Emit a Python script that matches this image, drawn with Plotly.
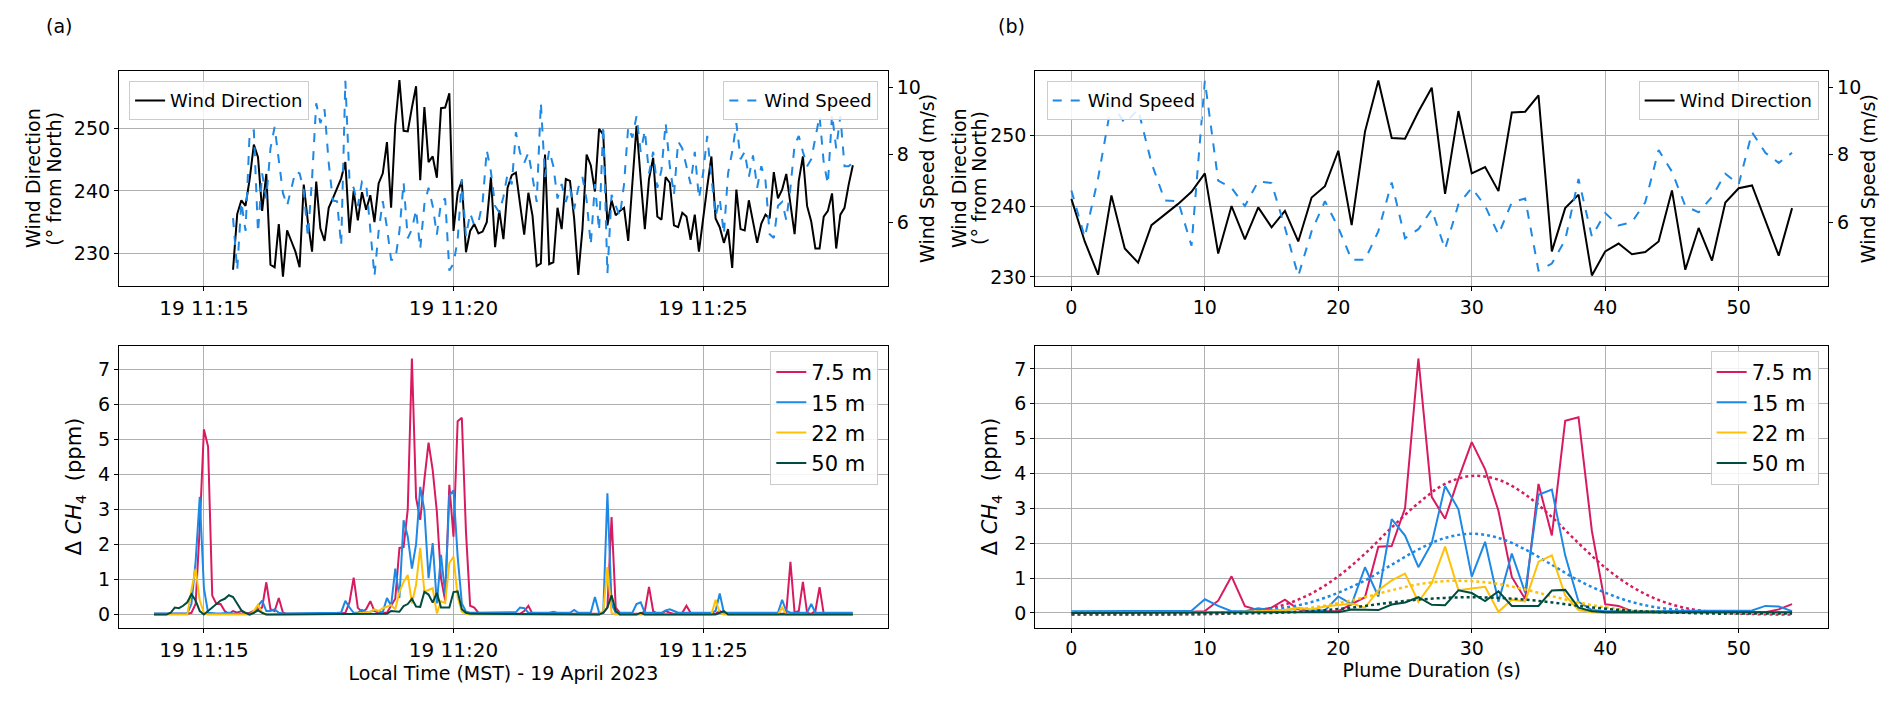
import pandas as pd
import plotly.graph_objects as go

# ---- colours ----
C_RED = "#D81B60"
C_BLUE = "#1E88E5"
C_YEL = "#FFC107"
C_GRN = "#004D40"
FONT = "DejaVu Sans"

# ---- (b) plume window, 1 sample per step ----
PLUME_T = list(range(55))

WDIR_PLUME = [241.0, 235.0, 230.3, 241.5, 234.0, 232.0, 237.3, 238.8, 240.3, 242.0,
              244.6, 233.3, 240.0, 235.3, 239.8, 237.0, 239.3, 235.0, 241.2, 242.8,
              247.8, 237.3, 250.5, 257.7, 249.6, 249.5, 253.3, 256.7, 241.7, 253.4,
              244.6, 245.5, 242.1, 253.2, 253.3, 255.6, 233.6, 239.7, 241.6, 230.2,
              233.6, 234.7, 233.2, 233.5, 235.0, 242.2, 231.0, 236.9, 232.3, 240.5,
              242.5, 242.9, 237.9, 233.0, 239.7]
WSPD_PLUME = [6.94, 5.55, 7.30, 9.53, 8.94, 9.35, 7.76, 6.64, 6.62, 5.30,
              10.2, 7.23, 7.02, 6.48, 7.21, 7.16, 5.84, 4.40, 5.73, 6.62,
              5.84, 4.88, 4.88, 5.73, 7.18, 5.52, 5.79, 6.37, 5.20, 6.53,
              7.02, 6.48, 5.63, 6.59, 6.70, 4.56, 4.77, 5.47, 7.28, 5.57,
              6.27, 5.90, 6.00, 6.59, 8.14, 7.50, 6.48, 6.29, 6.75, 7.44,
              7.12, 8.67, 8.06, 7.76, 8.06]

CH4_75_PLUME = [0.02, 0.02, 0.02, 0.02, 0.02, 0.02, 0.02, 0.02, 0.02, 0.03,
                0.05, 0.35, 1.05, 0.19, 0.08, 0.15, 0.38, 0.10, 0.05, 0.05,
                0.05, 0.25, 0.45, 1.90, 1.92, 3.00, 7.30, 3.33, 2.70, 3.85,
                4.90, 4.12, 2.93, 1.03, 0.40, 3.70, 2.22, 5.51, 5.61, 2.35,
                0.25, 0.20, 0.05, 0.03, 0.03, 0.03, 0.03, 0.03, 0.03, 0.03,
                0.03, 0.02, 0.02, 0.10, 0.25]
CH4_15_PLUME = [0.05, 0.05, 0.05, 0.05, 0.05, 0.05, 0.05, 0.05, 0.05, 0.06,
                0.39, 0.20, 0.05, 0.05, 0.13, 0.07, 0.08, 0.12, 0.08, 0.07,
                0.47, 0.25, 1.31, 0.47, 2.69, 2.22, 1.31, 2.00, 3.64, 2.97,
                1.04, 2.04, 0.32, 1.70, 0.58, 3.39, 3.54, 1.65, 0.32, 0.08,
                0.05, 0.05, 0.05, 0.05, 0.05, 0.05, 0.05, 0.05, 0.05, 0.05,
                0.05, 0.07, 0.20, 0.18, 0.05]
CH4_22_PLUME = [0.0, 0.0, 0.0, 0.0, 0.0, 0.0, 0.0, 0.0, 0.0, 0.0,
                0.0, 0.02, 0.02, 0.03, 0.05, 0.05, 0.08, 0.15, 0.10, 0.18,
                0.22, 0.27, 0.15, 0.65, 0.93, 1.13, 0.32, 0.85, 1.90, 0.65,
                0.70, 0.75, 0.03, 0.38, 0.33, 1.47, 1.65, 0.50, 0.08, 0.02,
                0.0, 0.0, 0.0, 0.0, 0.0, 0.0, 0.0, 0.0, 0.0, 0.0,
                0.0, 0.0, 0.0, 0.0, 0.0]
CH4_50_PLUME = [0.0, 0.0, 0.0, 0.0, 0.0, 0.0, 0.0, 0.0, 0.0, 0.0,
                0.0, 0.0, 0.0, 0.0, 0.0, 0.0, 0.01, 0.01, 0.01, 0.01,
                0.02, 0.10, 0.08, 0.08, 0.24, 0.30, 0.45, 0.23, 0.22, 0.65,
                0.57, 0.34, 0.62, 0.20, 0.20, 0.20, 0.64, 0.66, 0.15, 0.05,
                0.02, 0.02, 0.02, 0.02, 0.02, 0.02, 0.02, 0.02, 0.02, 0.02,
                0.02, 0.02, 0.02, 0.02, 0.02]

# fitted plume curves (dotted), read every 2 s
FIT_T = list(range(0, 55, 2))
FIT_75 = [-0.05, -0.05, -0.05, -0.05, -0.05, -0.04, -0.01, 0.07, 0.24, 0.56,
          1.05, 1.70, 2.45, 3.15, 3.70, 3.93, 3.82, 3.40, 2.75, 2.00,
          1.30, 0.75, 0.37, 0.14, 0.03, -0.02, -0.04, -0.05]
FIT_15 = [0.0, 0.0, 0.0, 0.0, 0.0, 0.0, 0.02, 0.07, 0.15, 0.31,
          0.58, 0.93, 1.38, 1.82, 2.15, 2.27, 2.15, 1.82, 1.38, 0.93,
          0.58, 0.31, 0.15, 0.07, 0.03, 0.01, 0.0, 0.0]
FIT_22 = [0.0, 0.0, 0.0, 0.0, 0.0, 0.0, 0.0, 0.02, 0.06, 0.15,
          0.28, 0.45, 0.65, 0.82, 0.91, 0.91, 0.83, 0.67, 0.48, 0.30,
          0.16, 0.07, 0.03, 0.01, 0.0, 0.0, 0.0, 0.0]
FIT_50 = [-0.02, -0.02, -0.02, -0.02, -0.02, -0.02, -0.02, -0.01, 0.01, 0.05,
          0.11, 0.20, 0.30, 0.38, 0.43, 0.45, 0.43, 0.38, 0.30, 0.20,
          0.12, 0.06, 0.02, 0.0, -0.02, -0.02, -0.02, -0.02]

# ---- (a) full record: before and after the plume window ----
CH4_75_BEFORE = [0.02, 0.02, 0.02, 0.02, 0.02, 0.02, 0.02, 0.02, 0.02, 0.05,
                 0.30, 2.50, 5.28, 4.79, 0.54, 0.30, 0.30, 0.10, 0.02, 0.10,
                 0.05, 0.10, 0.02, 0.05, 0.10, 0.15, 0.20, 0.92, 0.15, 0.10,
                 0.47, 0.05, 0.02, 0.02, 0.02, 0.02]
CH4_15_BEFORE = [0.03, 0.03, 0.03, 0.03, 0.03, 0.03, 0.03, 0.03, 0.03, 0.30,
                 1.50, 3.36, 0.75, 0.05, 0.03, 0.03, 0.03, 0.05, 0.05, 0.03,
                 0.02, 0.02, 0.02, 0.02, 0.05, 0.25, 0.40, 0.10, 0.10, 0.15,
                 0.05, 0.03, 0.03, 0.03, 0.03, 0.03]
CH4_22_BEFORE = [0.0, 0.0, 0.0, 0.0, 0.0, 0.0, 0.0, 0.0, 0.0, 0.70,
                 1.30, 0.40, 0.05, 0.0, 0.0, 0.0, 0.0, 0.0, 0.0, 0.0,
                 0.0, 0.0, 0.0, 0.0, 0.10, 0.28, 0.05, 0.0, 0.0, 0.0,
                 0.0, 0.0, 0.0, 0.0, 0.0, 0.0]
CH4_50_BEFORE = [0.0, 0.0, 0.0, 0.0, 0.05, 0.20, 0.18, 0.25, 0.35, 0.58,
                 0.40, 0.10, 0.0, 0.10, 0.20, 0.30, 0.40, 0.45, 0.55, 0.50,
                 0.30, 0.12, 0.05, 0.0, 0.05, 0.12, 0.05, 0.0, 0.0, 0.0,
                 0.0, 0.0, 0.0, 0.0, 0.0, 0.0]

CH4_75_AFTER = [0.02, 0.02, 0.02, 0.02, 0.02, 0.02, 0.02, 0.02, 0.02, 0.02,
                0.02, 0.02, 0.02, 0.02, 0.02, 0.02, 0.02, 0.05, 0.20, 2.78,
                0.20, 0.05, 0.02, 0.02, 0.02, 0.02, 0.02, 0.10, 0.79, 0.10,
                0.02, 0.02, 0.10, 0.05, 0.02, 0.02, 0.05, 0.25, 0.05, 0.02,
                0.02, 0.02, 0.02, 0.02, 0.02, 0.10, 0.02, 0.02, 0.02, 0.02,
                0.02, 0.02, 0.02, 0.02, 0.02, 0.02, 0.02, 0.02, 0.02, 0.02,
                0.02, 0.05, 1.50, 0.05, 0.10, 0.93, 0.05, 0.02, 0.10, 0.78,
                0.02, 0.02, 0.02, 0.02, 0.02, 0.02, 0.02, 0.02]
CH4_15_AFTER = [0.05, 0.05, 0.05, 0.05, 0.05, 0.08, 0.05, 0.05, 0.05, 0.05,
                0.13, 0.05, 0.05, 0.05, 0.05, 0.50, 0.05, 0.05, 3.46, 0.30,
                0.05, 0.05, 0.05, 0.05, 0.05, 0.30, 0.35, 0.05, 0.05, 0.05,
                0.05, 0.05, 0.12, 0.15, 0.10, 0.05, 0.05, 0.05, 0.05, 0.05,
                0.05, 0.05, 0.05, 0.05, 0.10, 0.60, 0.05, 0.05, 0.05, 0.05,
                0.05, 0.05, 0.05, 0.05, 0.05, 0.05, 0.05, 0.05, 0.05, 0.05,
                0.42, 0.10, 0.05, 0.05, 0.05, 0.05, 0.05, 0.30, 0.05, 0.05,
                0.05, 0.05, 0.05, 0.05, 0.05, 0.05, 0.05, 0.05]
CH4_22_AFTER = [0.0, 0.0, 0.0, 0.0, 0.0, 0.0, 0.0, 0.0, 0.0, 0.0,
                0.0, 0.0, 0.0, 0.0, 0.0, 0.0, 0.0, 0.10, 1.35, 0.05,
                0.0, 0.0, 0.0, 0.0, 0.0, 0.0, 0.0, 0.0, 0.0, 0.0,
                0.0, 0.0, 0.0, 0.0, 0.0, 0.0, 0.0, 0.0, 0.0, 0.0,
                0.0, 0.0, 0.0, 0.0, 0.42, 0.05, 0.0, 0.0, 0.0, 0.0,
                0.0, 0.0, 0.0, 0.0, 0.0, 0.0, 0.0, 0.0, 0.0, 0.0,
                0.20, 0.0, 0.0, 0.0, 0.0, 0.0, 0.0, 0.0, 0.0, 0.0,
                0.0, 0.0, 0.0, 0.0, 0.0, 0.0, 0.0, 0.0]
CH4_50_AFTER = [0.0, 0.0, 0.0, 0.0, 0.0, 0.0, 0.0, 0.0, 0.0, 0.0,
                0.0, 0.0, 0.0, 0.0, 0.0, 0.0, 0.0, 0.05, 0.20, 0.55,
                0.10, 0.0, 0.0, 0.0, 0.0, 0.0, 0.05, 0.0, 0.0, 0.0,
                0.0, 0.0, 0.0, 0.0, 0.0, 0.0, 0.0, 0.0, 0.0, 0.0,
                0.0, 0.0, 0.0, 0.0, 0.0, 0.05, 0.10, 0.0, 0.0, 0.0,
                0.0, 0.0, 0.0, 0.0, 0.0, 0.0, 0.0, 0.0, 0.0, 0.0,
                0.0, 0.0, 0.0, 0.0, 0.0, 0.0, 0.0, 0.0, 0.0, 0.0,
                0.0, 0.0, 0.0, 0.0, 0.0, 0.0, 0.0, 0.0]

WDIR_BEFORE = [227.4, 236.3, 238.5, 237.6, 241.9, 247.4, 245.4, 236.8, 242.7, 228.2,
               227.8, 234.7, 226.3, 233.7, 232.0, 230.3, 227.8]
WSPD_BEFORE = [6.12, 4.57, 6.60, 5.74, 8.67, 8.72, 5.69, 7.45, 6.70, 8.19,
               8.83, 7.77, 6.86, 6.49, 6.97, 7.50, 7.45]
WDIR_AFTER = [236.0, 228.0, 228.4, 245.8, 228.3, 228.6, 237.3, 233.9, 241.9, 241.6,
              235.6, 226.6, 233.9, 245.8, 244.1, 239.9, 249.9, 249.0, 234.5, 238.5,
              236.1, 236.8, 237.3, 232.0, 241.9, 250.4, 241.9, 233.9, 241.9, 245.3,
              235.9, 235.4, 242.2, 241.3, 234.5, 234.2, 236.5, 235.9, 232.2, 236.2,
              230.3, 235.9, 240.7, 245.5, 235.6, 234.2, 231.7, 233.9, 227.7, 240.2,
              233.9, 233.7, 238.5, 235.1, 231.7, 234.8, 236.2, 235.6, 243.0, 238.8,
              240.2, 242.7, 238.2, 233.1, 241.6, 245.5, 237.6, 235.1, 230.8, 230.8,
              235.9, 236.8, 239.6, 230.8, 236.2, 237.3, 241.0, 244.1]
WSPD_AFTER = [7.34, 6.60, 9.55, 7.34, 8.14, 7.66, 6.70, 7.13, 6.60, 7.02,
              6.38, 7.02, 7.34, 6.65, 5.32, 7.13, 5.74, 8.88, 4.47, 6.81,
              6.49, 6.17, 7.13, 8.83, 8.51, 9.15, 8.09, 8.72, 7.45, 8.09,
              7.02, 7.55, 8.94, 7.66, 6.81, 8.40, 8.19, 7.66, 7.13, 8.09,
              6.70, 7.45, 8.56, 7.34, 6.17, 6.70, 5.64, 7.45, 8.09, 8.94,
              7.87, 8.09, 7.34, 7.98, 7.02, 7.66, 7.23, 5.64, 5.53, 6.49,
              6.60, 6.06, 7.02, 8.30, 8.56, 8.09, 7.66, 7.87, 8.56, 9.15,
              7.77, 7.13, 9.20, 8.19, 9.15, 7.66, 7.66, 7.77]

ch4_75 = CH4_75_BEFORE + CH4_75_PLUME + CH4_75_AFTER
ch4_15 = CH4_15_BEFORE + CH4_15_PLUME + CH4_15_AFTER
ch4_22 = CH4_22_BEFORE + CH4_22_PLUME + CH4_22_AFTER
ch4_50 = CH4_50_BEFORE + CH4_50_PLUME + CH4_50_AFTER
wdir = WDIR_BEFORE + WDIR_PLUME + WDIR_AFTER
wspd = WSPD_BEFORE + WSPD_PLUME + WSPD_AFTER

times = pd.date_range("2023-04-19 11:14:00", periods=len(ch4_75), freq="5s")
wind_times = times[len(CH4_75_BEFORE) - len(WDIR_BEFORE):]

fig = go.Figure()

# (a) top: wind
fig.add_trace(go.Scatter(x=wind_times, y=wdir, mode="lines", name="Wind Direction",
                         line=dict(color="black", width=2), xaxis="x", yaxis="y", legend="legend"))
fig.add_trace(go.Scatter(x=wind_times, y=wspd, mode="lines", name="Wind Speed",
                         line=dict(color=C_BLUE, width=2, dash="dash"), xaxis="x", yaxis="y2", legend="legend2"))

# (a) bottom: CH4
for vals, col, lab in [(ch4_75, C_RED, "7.5 m"), (ch4_15, C_BLUE, "15 m"),
                       (ch4_22, C_YEL, "22 m"), (ch4_50, C_GRN, "50 m")]:
    fig.add_trace(go.Scatter(x=times, y=vals, mode="lines", name=lab,
                             line=dict(color=col, width=2), xaxis="x2", yaxis="y3", legend="legend3"))

# (b) top: wind
fig.add_trace(go.Scatter(x=PLUME_T, y=WSPD_PLUME, mode="lines", name="Wind Speed",
                         line=dict(color=C_BLUE, width=2, dash="dash"), xaxis="x3", yaxis="y5", legend="legend4"))
fig.add_trace(go.Scatter(x=PLUME_T, y=WDIR_PLUME, mode="lines", name="Wind Direction",
                         line=dict(color="black", width=2), xaxis="x3", yaxis="y4", legend="legend5"))

# (b) bottom: CH4 + fits
for vals, fit, col, lab in [(CH4_75_PLUME, FIT_75, C_RED, "7.5 m"), (CH4_15_PLUME, FIT_15, C_BLUE, "15 m"),
                            (CH4_22_PLUME, FIT_22, C_YEL, "22 m"), (CH4_50_PLUME, FIT_50, C_GRN, "50 m")]:
    fig.add_trace(go.Scatter(x=PLUME_T, y=vals, mode="lines", name=lab,
                             line=dict(color=col, width=2), xaxis="x4", yaxis="y6", legend="legend6"))
    fig.add_trace(go.Scatter(x=FIT_T, y=fit, mode="lines", showlegend=False,
                             line=dict(color=col, width=2.5, dash="dot", shape="spline"),
                             xaxis="x4", yaxis="y6"))

XL = [0.0587, 0.465]
XR = [0.543, 0.962]
YT = [0.605, 0.911]
YB = [0.120, 0.5205]

ax = dict(showline=True, linecolor="black", linewidth=1.3, mirror=True, ticks="outside",
          ticklen=4, tickcolor="black", showgrid=True, gridcolor="#b0b0b0", gridwidth=1,
          zeroline=False, tickfont=dict(size=19, color="black"),
          title_font=dict(size=19, color="black"))
trange = ["2023-04-19 11:13:18", "2023-04-19 11:28:42"]
tdate = dict(type="date", range=trange, tickformat="%d %H:%M", dtick=300000,
             tick0="2023-04-19 11:15:00", tickfont=dict(size=20, color="black"))

leg = dict(bgcolor="rgba(255,255,255,0.85)", bordercolor="#cccccc", borderwidth=1,
           font=dict(size=18, color="black"), yanchor="top")
leg_b = dict(leg, font=dict(size=21, color="black"))

ch4_title = dict(text="Δ <i>CH</i><sub>4</sub>  (ppm)", standoff=10, font=dict(size=21))

# y-axis titles of the wind panels, one line each so the spacing stays tight
ymid = (YT[0] + YT[1]) / 2
side_titles = [("Wind Direction", 0.0135), ("(° from North)", 0.0245),
               ("Wind Speed (m/s)", 0.486),
               ("Wind Direction", 0.503), ("(° from North)", 0.5135),
               ("Wind Speed (m/s)", 0.9835)]
annots = [dict(text=t, x=xp, y=ymid, xref="paper", yref="paper", showarrow=False,
               textangle=-90, xanchor="center", yanchor="middle", font=dict(size=19))
          for t, xp in side_titles]
annots += [
    dict(text="(a)", x=0.019, y=0.975, xref="paper", yref="paper", showarrow=False,
         xanchor="left", yanchor="middle", font=dict(size=19)),
    dict(text="(b)", x=0.522, y=0.975, xref="paper", yref="paper", showarrow=False,
         xanchor="left", yanchor="middle", font=dict(size=19)),
]

fig.update_layout(
    width=1892, height=704,
    margin=dict(l=0, r=0, t=0, b=0),
    paper_bgcolor="white", plot_bgcolor="white",
    font=dict(family=FONT, color="black"),
    xaxis=dict(ax, domain=XL, anchor="y", **tdate),
    yaxis=dict(ax, domain=YT, anchor="x", range=[224.8, 259.2], tickvals=[230, 240, 250]),
    yaxis2=dict(ax, overlaying="y", side="right", anchor="x", range=[4.1, 10.5],
                tickvals=[6, 8, 10], showgrid=False, mirror=False),
    xaxis2=dict(ax, domain=XL, anchor="y3", title=dict(text="Local Time (MST) - 19 April 2023", standoff=4), **tdate),
    yaxis3=dict(ax, domain=YB, anchor="x2", range=[-0.37, 7.67], dtick=1, title=ch4_title),
    xaxis3=dict(ax, domain=XR, anchor="y4", range=[-2.7, 56.7], dtick=10),
    yaxis4=dict(ax, domain=YT, anchor="x3", range=[228.7, 259.1], tickvals=[230, 240, 250]),
    yaxis5=dict(ax, overlaying="y4", side="right", anchor="x3", range=[4.1, 10.5],
                tickvals=[6, 8, 10], showgrid=False, mirror=False),
    xaxis4=dict(ax, domain=XR, anchor="y6", range=[-2.7, 56.7], dtick=10,
                title=dict(text="Plume Duration (s)", standoff=4)),
    yaxis6=dict(ax, domain=YB, anchor="x4", range=[-0.42, 7.67], dtick=1, title=ch4_title),
    legend=dict(leg, x=0.064, y=0.896, xanchor="left"),
    legend2=dict(leg, x=0.460, y=0.896, xanchor="right"),
    legend3=dict(leg_b, x=0.460, y=0.513, xanchor="right"),
    legend4=dict(leg, x=0.549, y=0.896, xanchor="left"),
    legend5=dict(leg, x=0.957, y=0.896, xanchor="right"),
    legend6=dict(leg_b, x=0.957, y=0.513, xanchor="right"),
    annotations=annots,
)

fig.write_html("out.html")
